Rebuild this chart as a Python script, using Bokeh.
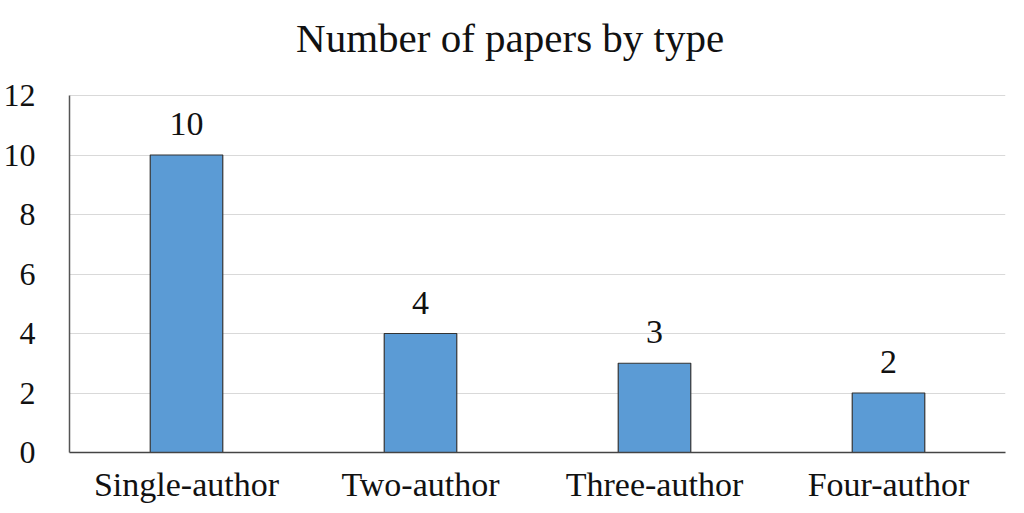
from bokeh.plotting import figure
from bokeh.models import ColumnDataSource, LabelSet, FixedTicker, Range1d, Label
from bokeh.embed import file_html
from bokeh.resources import INLINE

categories = ["Single-author", "Two-author", "Three-author", "Four-author"]
counts = [10, 4, 3, 2]
y_ticks = [0, 2, 4, 6, 8, 10, 12]
title_text = "Number of papers by type"

FONT = "Liberation Serif"

src = ColumnDataSource(dict(cat=categories, val=counts, lab=[str(v) for v in counts]))

# frame spans from near the top of the canvas so the title can sit inside it
p = figure(x_range=categories, y_range=Range1d(0, 447 / 29.75), width=1008, height=505,
           output_backend="svg", toolbar_location=None,
           min_border_left=68, min_border_right=3, min_border_top=5, min_border_bottom=53)

title = Label(x=1.883, y=13.916, text=title_text,
              text_align="center", text_baseline="middle",
              text_font=FONT, text_font_size="41px", text_color="#111111")
p.add_layout(title)

p.vbar(x="cat", top="val", width=0.31, source=src, fill_color="#5B9BD5",
       line_color="#333333", line_width=1.2)

labels = LabelSet(x="cat", y="val", text="lab", source=src, y_offset=20,
                  text_align="center", text_baseline="bottom",
                  text_font=FONT, text_font_size="34px", text_color="#111111")
p.add_layout(labels)

ticker = FixedTicker(ticks=y_ticks)
p.outline_line_color = None
p.xgrid.grid_line_color = None
p.ygrid.ticker = ticker
p.ygrid.grid_line_color = "#d9d9d9"
p.ygrid.grid_line_width = 1

p.yaxis.ticker = ticker
p.yaxis.bounds = (0, 12)
p.yaxis.major_tick_line_color = None
p.yaxis.minor_tick_line_color = None
p.yaxis.axis_line_color = "#555555"
p.yaxis.axis_line_width = 1.5
p.yaxis.major_label_text_font = FONT
p.yaxis.major_label_text_font_size = "32px"
p.yaxis.major_label_text_color = "#111111"
p.yaxis.major_label_standoff = 28

p.xaxis.major_tick_line_color = None
p.xaxis.minor_tick_line_color = None
p.xaxis.axis_line_color = "#444444"
p.xaxis.axis_line_width = 1.5
p.xaxis.major_label_text_font = FONT
p.xaxis.major_label_text_font_size = "34px"
p.xaxis.major_label_text_color = "#111111"
p.xaxis.major_label_standoff = 7
p.x_range.range_padding = 0

open("out.html", "w").write(file_html(p, INLINE))
